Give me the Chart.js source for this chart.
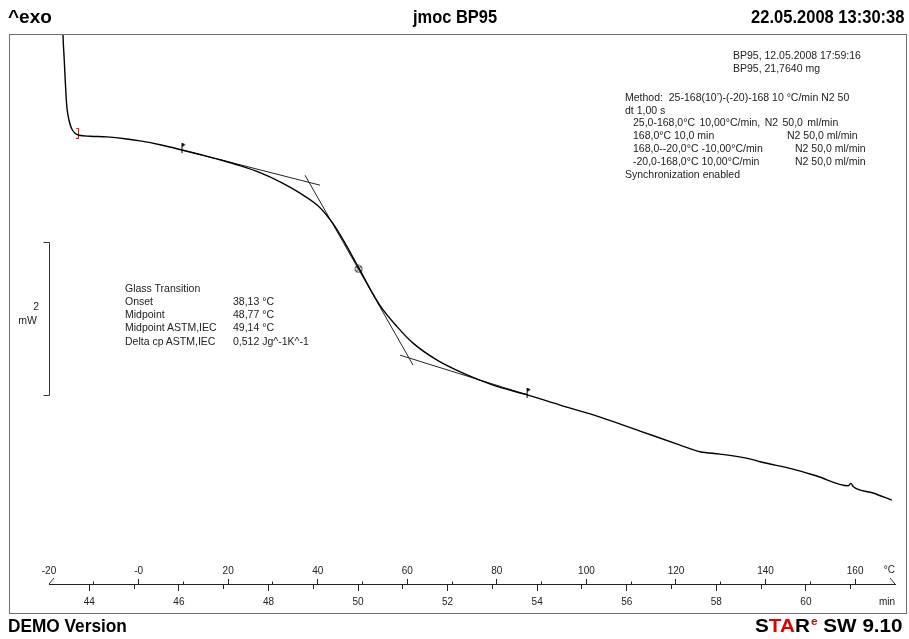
<!DOCTYPE html>
<html>
<head>
<meta charset="utf-8">
<script src="https://cdn.jsdelivr.net/npm/chart.js"></script>
<style>
  html, body { margin: 0; padding: 0; background: #fff; }
  #wrap { position: relative; width: 909px; height: 639px; overflow: hidden; font-family: "Liberation Sans", Arial, sans-serif; }
  #plot { position: absolute; left: 0; top: 0; }
  .frame { position: absolute; box-sizing: border-box; left: 9px; top: 34px; width: 898px; height: 580px; border: 1px solid #707070; }
  .big { position: absolute; font-family: "Liberation Sans", Arial, sans-serif; font-weight: bold; font-size: 19px; line-height: 20px; color: #000; white-space: nowrap; }
  .t { position: absolute; font-size: 10.5px; line-height: 13px; color: #222; white-space: pre; }
  .red { color: #e00000; }
</style>
</head>
<body>
<div id="wrap">
  <div class="frame"></div>
  <canvas id="plot" width="909" height="639"></canvas>

  <div class="big" data-a="l" data-w="44" style="left:8px; top:7px;">^exo</div>
  <div class="big" data-a="c" data-w="84" style="left:455px; top:7px;">jmoc BP95</div>
  <div class="big" data-a="r" data-w="153" style="right:5px; top:7px;">22.05.2008 13:30:38</div>
  <div class="big" data-a="l" data-w="119" style="left:8px; top:616px;">DEMO Version</div>
  <div class="big" data-a="r" data-w="148" style="right:6px; top:616px;">S<span class="red">TA</span>R<span class="red" style="font-size:11px; position:relative; top:-7px; margin-left:1px;">e</span> SW 9.10</div>

  <div class="t" style="left:733px; top:49px;">BP95, 12.05.2008 17:59:16</div>
  <div class="t" style="left:733px; top:62px;">BP95, 21,7640 mg</div>
  <div class="t" style="left:625px; top:91px;">Method:  25-168(10’)-(-20)-168 10 °C/min N2 50</div>
  <div class="t" style="left:625px; top:104px;">dt 1,00 s</div>
  <div class="t" style="left:633px; top:116px; word-spacing:1.5px;">25,0-168,0°C 10,00°C/min, N2 50,0 ml/min</div>
  <div class="t" style="left:633px; top:129px;">168,0°C 10,0 min</div>
  <div class="t" style="left:787px; top:129px;">N2 50,0 ml/min</div>
  <div class="t" style="left:633px; top:142px;">168,0--20,0°C -10,00°C/min</div>
  <div class="t" style="left:795px; top:142px;">N2 50,0 ml/min</div>
  <div class="t" style="left:633px; top:155px;">-20,0-168,0°C 10,00°C/min</div>
  <div class="t" style="left:795px; top:155px;">N2 50,0 ml/min</div>
  <div class="t" style="left:625px; top:168px;">Synchronization enabled</div>

  <div class="t" style="left:125px; top:282px;">Glass Transition</div>
  <div class="t" style="left:125px; top:295px;">Onset</div>
  <div class="t" style="left:233px; top:295px;">38,13 °C</div>
  <div class="t" style="left:125px; top:308px;">Midpoint</div>
  <div class="t" style="left:233px; top:308px;">48,77 °C</div>
  <div class="t" style="left:125px; top:321px;">Midpoint ASTM,IEC</div>
  <div class="t" style="left:233px; top:321px;">49,14 °C</div>
  <div class="t" style="left:125px; top:335px;">Delta cp ASTM,IEC</div>
  <div class="t" style="left:233px; top:335px;">0,512 Jg^-1K^-1</div>

  <div class="t" style="right:870px; top:300px;">2</div>
  <div class="t" style="right:872px; top:314px;">mW</div>
</div>

<script>
// DSC curve, heat flow (mW) against sample temperature (°C)
const tempC = [-17.10, -16.87, -16.65, -16.43, -16.20, -15.98, -15.53, -14.98, -14.19, -13.30,
  -10.84, -7.05, -3.03, 0.32, 4.79, 9.92, 13.72, 18.19, 22.65, 27.12, 31.59,
  36.05, 40.52, 43.42, 46.10, 47.89, 49.45, 51.24, 53.92, 57.71, 61.29,
  66.65, 72.45, 79.15, 86.97, 94.11, 103.05, 111.98, 120.91, 125.38, 129.85,
  136.92, 138.78, 146.14, 151.44, 158.49, 159.03, 159.61, 164.01, 168.19];
const heatFlow = [-0.105, -0.824, -1.085, -1.346, -1.608, -1.778, -1.935, -2.039, -2.105, -2.131,
  -2.144, -2.153, -2.176, -2.205, -2.255, -2.327, -2.383, -2.452, -2.529, -2.621, -2.741,
  -2.889, -3.078, -3.288, -3.542, -3.732, -3.895, -4.092, -4.359, -4.634, -4.850,
  -5.072, -5.242, -5.399, -5.529, -5.660, -5.817, -6.000, -6.183, -6.271, -6.301,
  -6.370, -6.401, -6.497, -6.588, -6.715, -6.684, -6.728, -6.810, -6.902];

// glass transition construction lines
const tangentBeforeT = [9.92, 40.52];
const tangentBeforeY = [-2.327, -2.784];
const inflectionT = [37.17, 61.29];
const inflectionY = [-2.654, -5.137];
const tangentAfterT = [58.38, 86.97];
const tangentAfterY = [-5.007, -5.529];

// evaluation limits and midpoint
const limitT = [9.92, 86.97];
const limitY = [-2.327, -5.529];
const midT = [49.14];
const midY = [-3.88];
const startT = [-13.52];
const startY = [-2.105];

// axis ranges (heating at 10 °C/min, so time and temperature run together)
const tempMin = -20, tempMax = 168.9;
const timeMin = 43.1, timeMax = 61.99;
const yMin = -8, yMax = -0.82;
const barTop = -3.53, barSpan = 2;

const pts = (xs, ys) => xs.map((x, i) => ({ x, y: ys[i] }));

// squeeze the bold header/footer lines to the condensed width of the original
document.querySelectorAll('.big').forEach(el => {
  const s = +el.dataset.w / el.offsetWidth;
  const a = el.dataset.a;
  el.style.transformOrigin = a === 'c' ? '50% 0' : (a === 'r' ? '100% 0' : '0 0');
  el.style.transform = (a === 'c' ? 'translateX(-50%) ' : '') + 'scaleX(' + s.toFixed(3) + ')';
});

function icon(w, h, draw) {
  const c = document.createElement('canvas');
  c.width = w; c.height = h;
  draw(c.getContext('2d'));
  return c;
}
const flagIcon = icon(7, 14, g => {
  g.strokeStyle = '#000'; g.lineWidth = 1;
  g.beginPath(); g.moveTo(2.5, 0); g.lineTo(2.5, 10); g.stroke();
  g.fillStyle = '#000';
  g.beginPath(); g.moveTo(3, 0); g.lineTo(6, 1.5); g.lineTo(3, 3.5); g.closePath(); g.fill();
});
const midIcon = icon(9, 9, g => {
  g.strokeStyle = '#333'; g.lineWidth = 1;
  g.beginPath(); g.arc(4.5, 4.5, 3.5, 0, Math.PI * 2); g.stroke();
  g.beginPath(); g.moveTo(2, 2); g.lineTo(7, 7); g.moveTo(7, 2); g.lineTo(2, 7); g.stroke();
});
const startIcon = icon(6, 11, g => {
  g.strokeStyle = '#e00000'; g.lineWidth = 1;
  g.beginPath(); g.moveTo(1, 0.5); g.lineTo(3.5, 0.5); g.lineTo(3.5, 10.5); g.lineTo(1, 10.5); g.stroke();
});

const tickFont = { family: '"Liberation Sans", Arial, sans-serif', size: 10 };
const ink = '#222';

const scaleBar = {
  id: 'scaleBar',
  afterDraw(chart) {
    const { ctx, chartArea } = chart;
    const y = chart.scales.y;
    const y1 = Math.round(y.getPixelForValue(barTop)) + 0.5;
    const y2 = Math.round(y.getPixelForValue(barTop - barSpan)) + 0.5;
    const x = Math.round(chartArea.left) + 0.5;
    ctx.save();
    ctx.strokeStyle = '#333';
    ctx.lineWidth = 1;
    ctx.beginPath();
    ctx.moveTo(x - 6, y1); ctx.lineTo(x, y1); ctx.lineTo(x, y2); ctx.lineTo(x - 6, y2);
    ctx.stroke();
    // end marks of the abscissa
    const ay = y.getPixelForValue(yMin);
    ctx.beginPath();
    ctx.moveTo(chartArea.left, ay); ctx.lineTo(chartArea.left + 5, ay - 6);
    ctx.moveTo(chartArea.right - 5, ay - 6); ctx.lineTo(chartArea.right, ay);
    ctx.stroke();
    ctx.restore();
  }
};

const thin = { borderColor: '#222', borderWidth: 1, pointRadius: 0, tension: 0, xAxisID: 'xTemp', yAxisID: 'y' };

new Chart(document.getElementById('plot'), {
  type: 'line',
  data: {
    datasets: [
      { data: pts(tempC, heatFlow), borderColor: '#000', borderWidth: 1.4, pointRadius: 0,
        cubicInterpolationMode: 'monotone', xAxisID: 'xTemp', yAxisID: 'y' },
      Object.assign({ data: pts(tangentBeforeT, tangentBeforeY) }, thin),
      Object.assign({ data: pts(inflectionT, inflectionY) }, thin),
      Object.assign({ data: pts(tangentAfterT, tangentAfterY) }, thin),
      { data: pts(limitT, limitY), showLine: false, pointStyle: flagIcon, pointRadius: 4, xAxisID: 'xTemp', yAxisID: 'y' },
      { data: pts(midT, midY), showLine: false, pointStyle: midIcon, pointRadius: 4, xAxisID: 'xTemp', yAxisID: 'y' },
      { data: pts(startT, startY), showLine: false, pointStyle: startIcon, pointRadius: 4, xAxisID: 'xTemp', yAxisID: 'y' }
    ]
  },
  options: {
    responsive: false,
    animation: false,
    events: [],
    layout: { padding: { left: 49, right: 14, top: 35, bottom: 29 } },
    plugins: { legend: { display: false }, tooltip: { enabled: false } },
    scales: {
      y: { type: 'linear', display: false, min: yMin, max: yMax },
      xTime: {
        type: 'linear', axis: 'x', position: 'bottom', min: timeMin, max: timeMax,
        border: { display: true, color: ink, width: 1 },
        grid: {
          drawOnChartArea: false, tickLength: 7, tickColor: ink,
          tickBorderDash: c => (c.tick && Math.round(c.tick.value) % 2 !== 0) ? [4, 10] : []
        },
        ticks: {
          stepSize: 1, autoSkip: false, includeBounds: false, maxRotation: 0, padding: 5.5,
          color: ink, font: tickFont,
          callback: v => (Math.round(v) % 2 === 0 ? String(v) : '')
        },
        title: { display: true, text: 'min', align: 'end', padding: { top: 0, bottom: 1.5 }, color: ink, font: tickFont },
        afterFit: s => { s.height = 26; }
      },
      xTemp: {
        type: 'linear', axis: 'x', position: { y: yMin }, min: tempMin, max: tempMax,
        border: { display: true, color: ink, width: 1 },
        grid: {
          drawOnChartArea: false, tickLength: -6,
          tickColor: c => (c.tick && c.tick.value === tempMin) ? 'rgba(0,0,0,0)' : ink,
          tickBorderDash: c => (c.tick && Math.round(c.tick.value) % 20 !== 0) ? [3.5, 10] : []
        },
        ticks: {
          stepSize: 10, autoSkip: false, includeBounds: false, maxRotation: 0, padding: -13,
          color: ink, font: tickFont,
          callback: v => (Math.round(v) % 20 === 0 ? (v === 0 ? '-0' : String(v)) : '')
        },
        title: { display: true, text: '°C', align: 'end', padding: { top: 0, bottom: 8 }, color: ink, font: tickFont },
        afterFit: s => { s.height = 0; }
      }
    }
  },
  plugins: [scaleBar]
});
</script>
</body>
</html>
